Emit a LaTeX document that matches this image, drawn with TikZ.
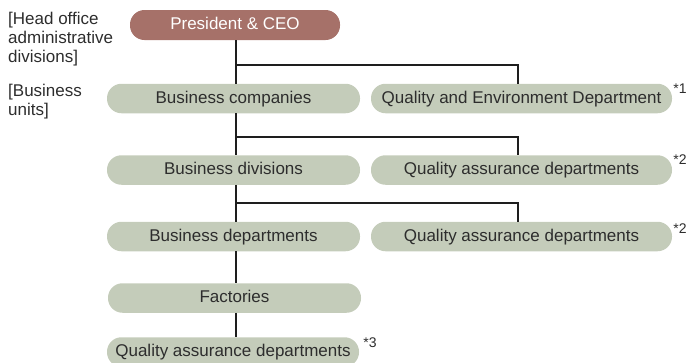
\documentclass[tikz,border=0pt]{standalone}
\usepackage{fontspec}
\setmainfont{Liberation Sans}
\definecolor{ceo}{RGB}{166,113,105}
\definecolor{sage}{RGB}{196,204,186}
\definecolor{txt}{RGB}{45,45,45}
\definecolor{ln}{RGB}{30,30,30}
\tikzset{
  box/.style={rounded corners=14.5pt, minimum height=29.5pt, inner sep=0pt, text height=13.3pt, text depth=3.5pt, font=\fontsize{17}{18}\selectfont, text=txt},
  leftbox/.style={box, fill=sage, minimum width=253pt},
  rightbox/.style={box, fill=sage, minimum width=301pt},
  ceobox/.style={box, fill=ceo, minimum width=210pt, minimum height=30pt, text=white},
  lbl/.style={anchor=north west, align=left, inner sep=0pt, font=\fontsize{17}{19}\selectfont, text=txt},
  note/.style={inner sep=0pt, font=\fontsize{14}{14}\selectfont, text=txt},
  conn/.style={draw=ln, line width=2pt}
}
\begin{document}
\begin{tikzpicture}[x=1pt,y=-1pt]
\useasboundingbox (0,0) rectangle (688,362);
\node[ceobox] (ceo) at (235,25) {President \& CEO};
\node[leftbox] (bc) at (233.5,98.5) {Business companies};
\node[rightbox] (qe) at (521.5,98.5) {Quality and Environment Department};
\node[leftbox] (bdiv) at (233.5,170) {Business divisions};
\node[rightbox] (qa1) at (521.5,170) {Quality assurance departments};
\node[leftbox] (bdep) at (233.5,236.5) {Business departments};
\node[rightbox] (qa2) at (521.5,236.5) {Quality assurance departments};
\node[leftbox] (fac) at (234.5,298) {Factories};
\node[leftbox, minimum width=252pt] (qa3) at (233,352) {Quality assurance departments};
\node[note] (n1) at (680,89) {*1};
\node[note] (n2) at (680,160) {*2};
\node[note] (n3) at (680,229) {*2};
\node[note] (n4) at (370,343) {*3};
\node[lbl] (l1) at (8,12) {[Head office\\administrative\\divisions]};
\node[lbl] (l2) at (8,84) {[Business\\units]};
\coordinate (t) at (236,0);
\coordinate (r) at (518,0);
\coordinate (h1) at (236,64.5);
\coordinate (h2) at (236,136.5);
\coordinate (h3) at (236,203);
\draw[conn] (ceo.south -| t) -- (bc.north -| t);
\draw[conn] (h1) -- (h1 -| r) -- (qe.north -| r);
\draw[conn] (bc.south -| t) -- (bdiv.north -| t);
\draw[conn] (h2) -- (h2 -| r) -- (qa1.north -| r);
\draw[conn] (bdiv.south -| t) -- (bdep.north -| t);
\draw[conn] (h3) -- (h3 -| r) -- (qa2.north -| r);
\draw[conn] (bdep.south -| t) -- (fac.north -| t);
\draw[conn] (fac.south -| t) -- (qa3.north -| t);
\end{tikzpicture}
\end{document}
